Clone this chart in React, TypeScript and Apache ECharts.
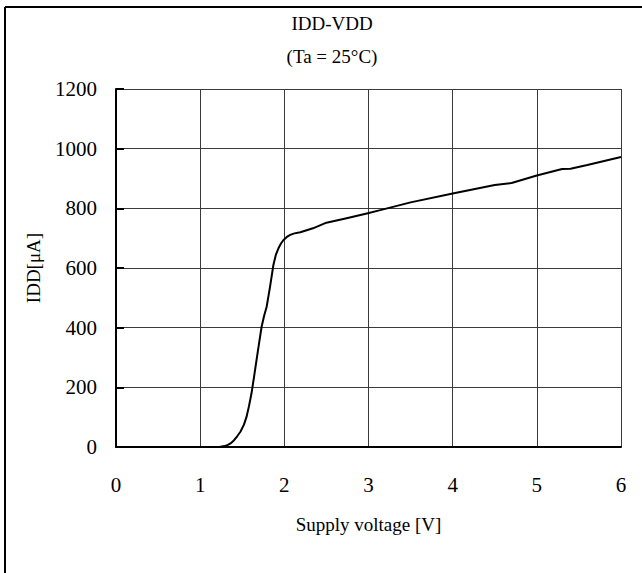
import React, { useEffect, useRef } from "react";
import * as echarts from "echarts";

const titleLines = ["IDD-VDD", "(Ta = 25°C)"];
const xAxisName = "Supply voltage [V]";
const yAxisName = "IDD[μA]";

const voltage = [
  0, 0.5, 1.0, 1.18, 1.24, 1.29, 1.33, 1.37, 1.4, 1.44, 1.48, 1.52, 1.55, 1.58,
  1.61, 1.64, 1.67, 1.7, 1.73, 1.76, 1.79, 1.83, 1.87, 1.9, 1.93, 1.96, 1.99,
  2.03, 2.07, 2.12, 2.19, 2.34, 2.5, 2.74, 2.98, 3.14, 3.5, 4.0, 4.5, 4.7, 5.0,
  5.3, 5.4, 5.6, 6.0,
];
const current = [
  0, 0, 0, 0, 1, 3, 7, 14, 22, 36, 52, 75, 100, 137, 180, 235, 292, 348, 403,
  440, 470, 537, 610, 645, 666, 682, 694, 704, 711, 716, 720, 733, 752, 767,
  783, 794, 820, 850, 878, 885, 910, 932, 933, 945, 972,
];

const FONT = "'Liberation Serif', 'Times New Roman', serif";

export default function App() {
  const ref = useRef<HTMLDivElement>(null);
  useEffect(() => {
    if (!ref.current) return;
    const chart = echarts.init(ref.current, undefined, { renderer: "svg" });
    const data = voltage.map((v, i) => [v, current[i]]);
    chart.setOption({
      animation: false,
      backgroundColor: "#ffffff",
      title: {
        text: titleLines.join("\n"),
        left: 327,
        top: 2,
        textAlign: "center",
        textStyle: {
          fontFamily: FONT,
          fontSize: 19,
          fontWeight: "normal",
          color: "#000",
          lineHeight: 33,
        },
      },
      graphic: [
        {
          type: "line",
          shape: { x1: 5, y1: 7, x2: 642, y2: 7 },
          style: { stroke: "#000", lineWidth: 2 },
        },
        {
          type: "line",
          shape: { x1: 5, y1: 7, x2: 5, y2: 573 },
          style: { stroke: "#000", lineWidth: 2 },
        },
      ],
      grid: { left: 116, right: 21, top: 89, bottom: 126, containLabel: false },
      xAxis: {
        type: "value",
        min: 0,
        max: 6,
        interval: 1,
        name: xAxisName,
        nameLocation: "middle",
        nameGap: 68,
        nameTextStyle: { fontFamily: FONT, fontSize: 19, color: "#000" },
        axisLine: { show: true, lineStyle: { color: "#000", width: 2 } },
        axisTick: { show: false },
        axisLabel: {
          fontFamily: FONT,
          fontSize: 21,
          color: "#000",
          margin: 27,
        },
        splitLine: { show: true, lineStyle: { color: "#3a3a3a", width: 1 } },
      },
      yAxis: {
        type: "value",
        min: 0,
        max: 1200,
        interval: 200,
        name: yAxisName,
        nameLocation: "middle",
        nameGap: 73,
        nameRotate: 90,
        nameTextStyle: { fontFamily: FONT, fontSize: 19, color: "#000" },
        axisLine: { show: true, lineStyle: { color: "#000", width: 2 } },
        axisTick: {
          show: true,
          inside: true,
          length: 8,
          lineStyle: { color: "#000", width: 2 },
        },
        axisLabel: {
          fontFamily: FONT,
          fontSize: 21,
          color: "#000",
          margin: 19,
          formatter: (v: number) => String(v),
        },
        splitLine: { show: true, lineStyle: { color: "#3a3a3a", width: 1 } },
      },
      series: [
        {
          type: "line",
          data,
          showSymbol: false,
          smooth: false,
          lineStyle: { color: "#000", width: 2, join: "round" },
          z: 5,
        },
      ],
    });
    return () => chart.dispose();
  }, []);
  return (
    <div
      ref={ref}
      style={{ position: "fixed", left: 0, top: 0, width: 642, height: 573 }}
    />
  );
}
